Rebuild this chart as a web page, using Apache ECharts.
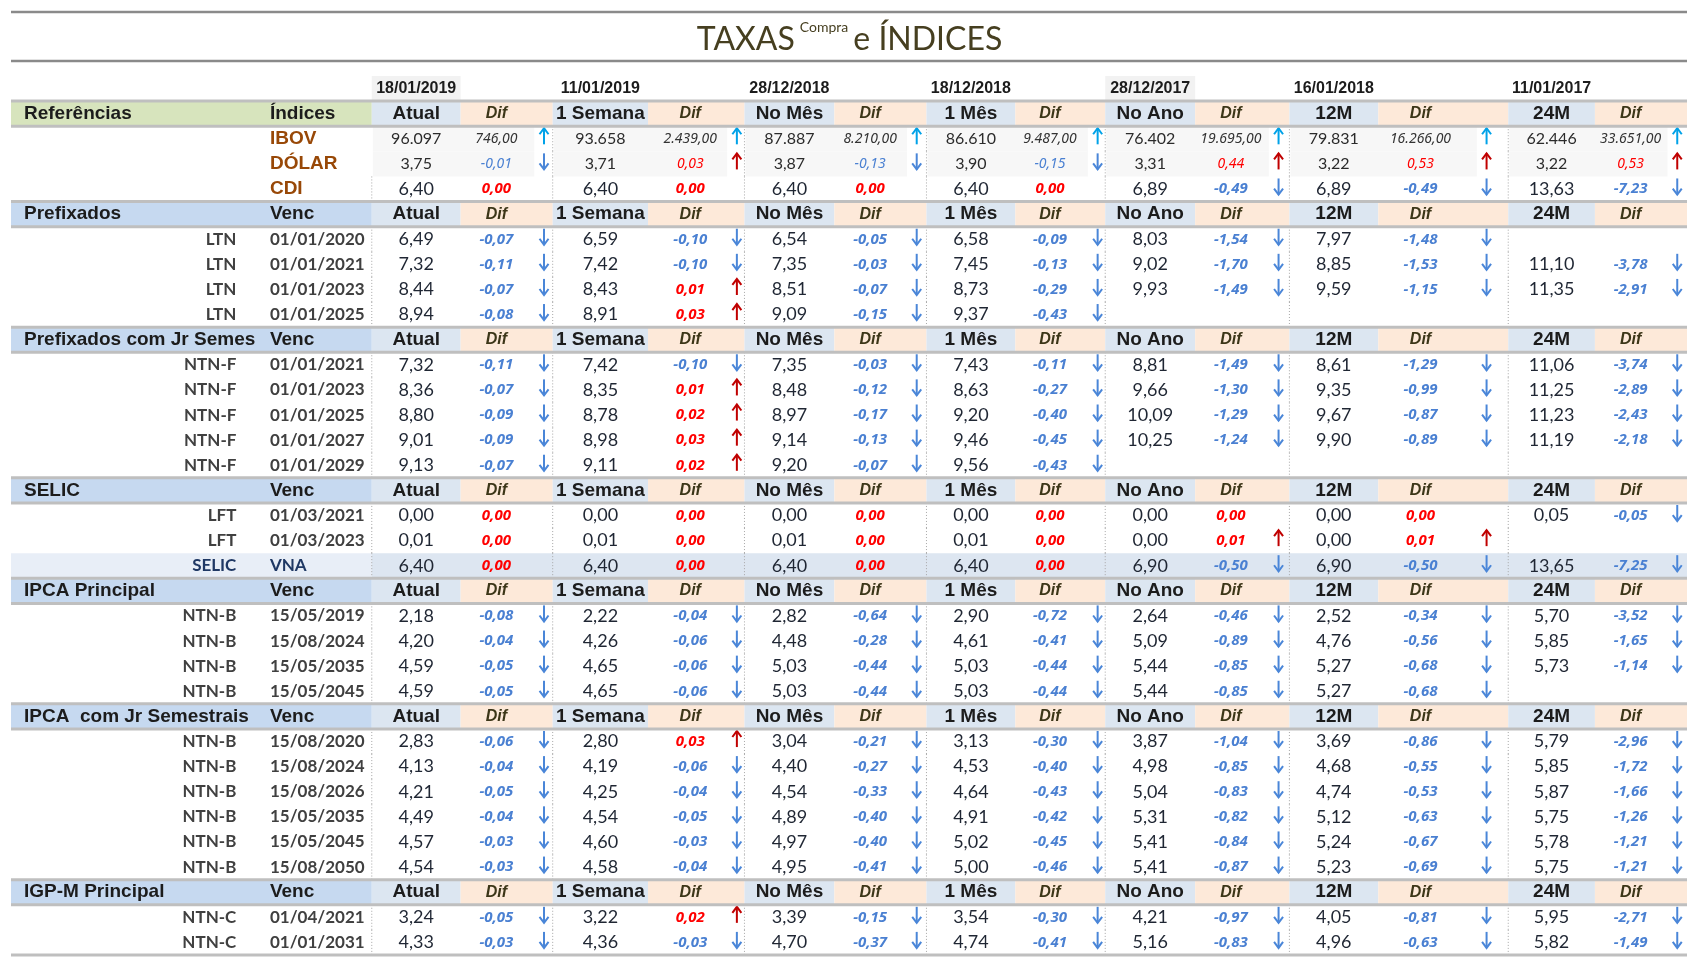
<!DOCTYPE html>
<html>
<head>
<meta charset="utf-8">
<title>TAXAS Compra e ÍNDICES</title>
<script src="https://cdn.jsdelivr.net/npm/echarts@6.0.0/dist/echarts.min.js"></script>
<style>
  html, body { margin: 0; padding: 0; background: #fff; }
  #chart { width: 1699px; height: 968px; }
</style>
</head>
<body>
<div id="chart"></div>
<script>
// datas de referência e colunas
const datas = ['18/01/2019', '11/01/2019', '28/12/2018', '18/12/2018', '28/12/2017', '16/01/2018', '11/01/2017'];
const colunas = ['Atual', '1 Semana', 'No Mês', '1 Mês', 'No Ano', '12M', '24M'];

const secoes = ['Referências', 'Prefixados', 'Prefixados com Jr Semestrais', 'SELIC', 'IPCA Principal', 'IPCA  com Jr Semestrais', 'IGP-M Principal'];
const secoesCol2 = ['Índices', 'Venc', 'Venc', 'Venc', 'Venc', 'Venc', 'Venc'];

// Referências
const indNomes = ['IBOV', 'DÓLAR', 'CDI'];
const indTaxas = [
  [96097, 93658, 87887, 86610, 76402, 79831, 62446],
  [3.75, 3.71, 3.87, 3.90, 3.31, 3.22, 3.22],
  [6.40, 6.40, 6.40, 6.40, 6.89, 6.89, 13.63]
];
const indDif = [
  [746, 2439, 8210, 9487, 19695, 16266, 33651],
  [-0.01, 0.03, -0.13, -0.15, 0.44, 0.53, 0.53],
  [0, 0, 0, 0, -0.49, -0.49, -7.23]
];

// Prefixados
const ltnTitulos = ['LTN', 'LTN', 'LTN', 'LTN'];
const ltnVenc = ['01/01/2020', '01/01/2021', '01/01/2023', '01/01/2025'];
const ltnTaxas = [
  [6.49, 6.59, 6.54, 6.58, 8.03, 7.97, null],
  [7.32, 7.42, 7.35, 7.45, 9.02, 8.85, 11.10],
  [8.44, 8.43, 8.51, 8.73, 9.93, 9.59, 11.35],
  [8.94, 8.91, 9.09, 9.37, null, null, null]
];
const ltnDif = [
  [-0.07, -0.10, -0.05, -0.09, -1.54, -1.48, null],
  [-0.11, -0.10, -0.03, -0.13, -1.70, -1.53, -3.78],
  [-0.07, 0.01, -0.07, -0.29, -1.49, -1.15, -2.91],
  [-0.08, 0.03, -0.15, -0.43, null, null, null]
];

// Prefixados com juros semestrais
const ntnfTitulos = ['NTN-F', 'NTN-F', 'NTN-F', 'NTN-F', 'NTN-F'];
const ntnfVenc = ['01/01/2021', '01/01/2023', '01/01/2025', '01/01/2027', '01/01/2029'];
const ntnfTaxas = [
  [7.32, 7.42, 7.35, 7.43, 8.81, 8.61, 11.06],
  [8.36, 8.35, 8.48, 8.63, 9.66, 9.35, 11.25],
  [8.80, 8.78, 8.97, 9.20, 10.09, 9.67, 11.23],
  [9.01, 8.98, 9.14, 9.46, 10.25, 9.90, 11.19],
  [9.13, 9.11, 9.20, 9.56, null, null, null]
];
const ntnfDif = [
  [-0.11, -0.10, -0.03, -0.11, -1.49, -1.29, -3.74],
  [-0.07, 0.01, -0.12, -0.27, -1.30, -0.99, -2.89],
  [-0.09, 0.02, -0.17, -0.40, -1.29, -0.87, -2.43],
  [-0.09, 0.03, -0.13, -0.45, -1.24, -0.89, -2.18],
  [-0.07, 0.02, -0.07, -0.43, null, null, null]
];

// SELIC
const selicTitulos = ['LFT', 'LFT', 'SELIC'];
const selicVenc = ['01/03/2021', '01/03/2023', 'VNA'];
const selicTaxas = [
  [0.00, 0.00, 0.00, 0.00, 0.00, 0.00, 0.05],
  [0.01, 0.01, 0.01, 0.01, 0.00, 0.00, null],
  [6.40, 6.40, 6.40, 6.40, 6.90, 6.90, 13.65]
];
const selicDif = [
  [0, 0, 0, 0, 0, 0, -0.05],
  [0, 0, 0, 0, 0.01, 0.01, null],
  [0, 0, 0, 0, -0.50, -0.50, -7.25]
];

// IPCA Principal
const ipcaTitulos = ['NTN-B', 'NTN-B', 'NTN-B', 'NTN-B'];
const ipcaVenc = ['15/05/2019', '15/08/2024', '15/05/2035', '15/05/2045'];
const ipcaTaxas = [
  [2.18, 2.22, 2.82, 2.90, 2.64, 2.52, 5.70],
  [4.20, 4.26, 4.48, 4.61, 5.09, 4.76, 5.85],
  [4.59, 4.65, 5.03, 5.03, 5.44, 5.27, 5.73],
  [4.59, 4.65, 5.03, 5.03, 5.44, 5.27, null]
];
const ipcaDif = [
  [-0.08, -0.04, -0.64, -0.72, -0.46, -0.34, -3.52],
  [-0.04, -0.06, -0.28, -0.41, -0.89, -0.56, -1.65],
  [-0.05, -0.06, -0.44, -0.44, -0.85, -0.68, -1.14],
  [-0.05, -0.06, -0.44, -0.44, -0.85, -0.68, null]
];

// IPCA com juros semestrais
const ipcaJrTitulos = ['NTN-B', 'NTN-B', 'NTN-B', 'NTN-B', 'NTN-B', 'NTN-B'];
const ipcaJrVenc = ['15/08/2020', '15/08/2024', '15/08/2026', '15/05/2035', '15/05/2045', '15/08/2050'];
const ipcaJrTaxas = [
  [2.83, 2.80, 3.04, 3.13, 3.87, 3.69, 5.79],
  [4.13, 4.19, 4.40, 4.53, 4.98, 4.68, 5.85],
  [4.21, 4.25, 4.54, 4.64, 5.04, 4.74, 5.87],
  [4.49, 4.54, 4.89, 4.91, 5.31, 5.12, 5.75],
  [4.57, 4.60, 4.97, 5.02, 5.41, 5.24, 5.78],
  [4.54, 4.58, 4.95, 5.00, 5.41, 5.23, 5.75]
];
const ipcaJrDif = [
  [-0.06, 0.03, -0.21, -0.30, -1.04, -0.86, -2.96],
  [-0.04, -0.06, -0.27, -0.40, -0.85, -0.55, -1.72],
  [-0.05, -0.04, -0.33, -0.43, -0.83, -0.53, -1.66],
  [-0.04, -0.05, -0.40, -0.42, -0.82, -0.63, -1.26],
  [-0.03, -0.03, -0.40, -0.45, -0.84, -0.67, -1.21],
  [-0.03, -0.04, -0.41, -0.46, -0.87, -0.69, -1.21]
];

// IGP-M Principal
const igpmTitulos = ['NTN-C', 'NTN-C'];
const igpmVenc = ['01/04/2021', '01/01/2031'];
const igpmTaxas = [
  [3.24, 3.22, 3.39, 3.54, 4.21, 4.05, 5.95],
  [4.33, 4.36, 4.70, 4.74, 5.16, 4.96, 5.82]
];
const igpmDif = [
  [-0.05, 0.02, -0.15, -0.30, -0.97, -0.81, -2.71],
  [-0.03, -0.03, -0.37, -0.41, -0.83, -0.63, -1.49]
];

// ---- layout (unidades do eixo x) ----
const X_MAX = 1547;
const X_TITULO = 12;
const X_ROTULO = 208;
const X_COL2 = 239;
const X_GRUPOS = 333;
const gInicio = [333, 500, 677, 845, 1010, 1180, 1382];
const gFimValor = [415, 588, 760, 927, 1093, 1262, 1462];
const gDif = [448, 627, 793, 959, 1126, 1301, 1495];
const gSeta = [492, 670, 836, 1003, 1170, 1362, 1538];
const gFim = [500, 677, 845, 1010, 1180, 1382, 1547];

const COR = {
  verde: '#d7e4bd', azulCab: '#c6d9f0', azulValor: '#dce6f1', pessego: '#fde9d9',
  dataFundo: '#f2f2f2', indFundo: '#f7f7f7', vnaRot: '#e8eef7', vnaGrupo: '#dde6f1',
  linha: '#bfbfbf', pontilhado: '#a6a6a6',
  setaAzul: '#4a86d8', setaVermelha: '#c00000', setaCiano: '#00a2e8',
  difAzul: '#4a80d2', difVermelho: '#ff0000'
};
const SANS = '"Liberation Sans", Arial, sans-serif';
const NUM = 'Lato, "Noto Sans", sans-serif';
const DIF = '"Noto Sans", "Open Sans", sans-serif';
const EST = {
  cab: { tam: 19, peso: 'bold', fam: SANS, cor: '#1c1c1c' },
  difCab: { tam: 16, peso: 'bold', estilo: 'italic', fam: SANS, cor: '#3c3618' },
  data: { tam: 16, peso: 'bold', fam: SANS, cor: '#1c1c1c' },
  indice: { tam: 19, peso: 'bold', fam: SANS, cor: '#984807' },
  rotulo: { tam: 17, peso: 'bold', fam: NUM, cor: '#404040' },
  rotuloVna: { tam: 17, peso: 'bold', fam: NUM, cor: '#1f3864' },
  taxa: { tam: 18, fam: NUM, cor: '#1f2633' },
  taxaPeq: { tam: 16, fam: NUM, cor: '#2b2b2b' },
  difNeg: { tam: 15, peso: 'bold', estilo: 'italic', fam: DIF, cor: COR.difAzul },
  difPos: { tam: 15, peso: 'bold', estilo: 'italic', fam: DIF, cor: COR.difVermelho },
  difPeqCinza: { tam: 14, estilo: 'italic', fam: DIF, cor: '#333333' },
  difPeqNeg: { tam: 14, estilo: 'italic', fam: DIF, cor: COR.difAzul },
  difPeqPos: { tam: 14, estilo: 'italic', fam: DIF, cor: COR.difVermelho }
};

function fmt(v, dec) {
  const neg = v < 0;
  const partes = Math.abs(v).toFixed(dec).split('.');
  const inteiro = partes[0].replace(/\B(?=(\d{3})+(?!\d))/g, '.');
  return (neg ? '-' : '') + inteiro + (partes[1] ? ',' + partes[1] : '');
}

const fundos = [];
const linhas = [];
const textos = [];
const setas = [];

// linha das datas
datas.forEach((d, g) => {
  if (g === 0 || g === 4) fundos.push({ x0: gInicio[g], x1: gFimValor[g], row: -1, cor: COR.dataFundo });
  textos.push({ x: (gInicio[g] + gFimValor[g]) / 2, row: -1, txt: d, est: 'data', align: 'center' });
});

function cabecalho(r, s) {
  fundos.push({ x0: 0, x1: X_GRUPOS, row: r, cor: s === 0 ? COR.verde : COR.azulCab });
  textos.push({ x: X_TITULO, row: r, txt: secoes[s], est: 'cab', align: 'left', larg: X_COL2 - X_TITULO - 12 });
  textos.push({ x: X_COL2, row: r, txt: secoesCol2[s], est: 'cab', align: 'left' });
  colunas.forEach((c, g) => {
    fundos.push({ x0: gInicio[g], x1: gFimValor[g], row: r, cor: COR.azulValor });
    fundos.push({ x0: gFimValor[g], x1: gFim[g], row: r, cor: COR.pessego });
    textos.push({ x: (gInicio[g] + gFimValor[g]) / 2, row: r, txt: c, est: 'cab', align: 'center' });
    textos.push({ x: gDif[g], row: r, txt: 'Dif', est: 'difCab', align: 'center' });
  });
  linhas.push({ x0: 0, y0: r - 0.5, x1: X_MAX, y1: r - 0.5, tipo: 'cinza' });
  linhas.push({ x0: 0, y0: r + 0.5, x1: X_MAX, y1: r + 0.5, tipo: 'cinza' });
}

function linhaDados(r, rot, venc, taxas, difs, tipo) {
  const pequeno = tipo === 'ibov' || tipo === 'dolar';
  if (tipo === 'vna') {
    fundos.push({ x0: 0, x1: X_GRUPOS, row: r, cor: COR.vnaRot });
    fundos.push({ x0: X_GRUPOS, x1: X_MAX, row: r, cor: COR.vnaGrupo });
  }
  if (rot) textos.push({ x: X_ROTULO, row: r, txt: rot, est: tipo === 'vna' ? 'rotuloVna' : 'rotulo', align: 'right' });
  textos.push({ x: X_COL2, row: r, txt: venc, est: (tipo === 'ibov' || tipo === 'dolar' || tipo === 'cdi') ? 'indice' : (tipo === 'vna' ? 'rotuloVna' : 'rotulo'), align: 'left' });
  for (let g = 0; g < colunas.length; g++) {
    if (pequeno) fundos.push({ x0: gInicio[g] + 1, x1: gSeta[g] - 9, row: r, cor: COR.indFundo });
    if (!(pequeno && g === 0)) linhas.push({ x0: gInicio[g], y0: r - 0.5, x1: gInicio[g], y1: r + 0.5, tipo: 'ponto' });
    const v = taxas[g];
    const d = difs[g];
    if (v !== null) {
      textos.push({ x: (gInicio[g] + gFimValor[g]) / 2, row: r, txt: fmt(v, tipo === 'ibov' ? 0 : 2), est: pequeno ? 'taxaPeq' : 'taxa', align: 'center' });
    }
    if (d !== null) {
      let est;
      if (tipo === 'ibov') est = 'difPeqCinza';
      else if (pequeno) est = d < 0 ? 'difPeqNeg' : 'difPeqPos';
      else est = d < 0 ? 'difNeg' : 'difPos';
      textos.push({ x: gDif[g], row: r, txt: fmt(d, 2), est: est, align: 'center' });
      if (d !== 0) {
        const cor = tipo === 'ibov' ? COR.setaCiano : (d < 0 ? COR.setaAzul : COR.setaVermelha);
        setas.push({ x: gSeta[g], row: r, dir: d < 0 ? 1 : -1, cor: cor });
      }
    }
  }
}

let r = 0;
cabecalho(r++, 0);
indNomes.forEach((n, i) => {
  linhaDados(r++, null, n, indTaxas[i], indDif[i], ['ibov', 'dolar', 'cdi'][i]);
});
const blocos = [
  [ltnTitulos, ltnVenc, ltnTaxas, ltnDif],
  [ntnfTitulos, ntnfVenc, ntnfTaxas, ntnfDif],
  [selicTitulos, selicVenc, selicTaxas, selicDif],
  [ipcaTitulos, ipcaVenc, ipcaTaxas, ipcaDif],
  [ipcaJrTitulos, ipcaJrVenc, ipcaJrTaxas, ipcaJrDif],
  [igpmTitulos, igpmVenc, igpmTaxas, igpmDif]
];
blocos.forEach((b, s) => {
  cabecalho(r++, s + 1);
  b[0].forEach((t, i) => {
    linhaDados(r++, t, b[1][i], b[2][i], b[3][i], b[1][i] === 'VNA' ? 'vna' : 'normal');
  });
});
linhas.push({ x0: 0, y0: r - 0.5, x1: X_MAX, y1: r - 0.5, tipo: 'cinza' });
const ULTIMA = r - 1;

const chart = echarts.init(document.getElementById('chart'), null, { renderer: 'canvas' });

const option = {
  animation: false,
  backgroundColor: '#ffffff',
  title: {
    left: 'center',
    top: 20,
    padding: 0,
    text: '{t|TAXAS} {s|Compra} {t|e ÍNDICES}',
    textStyle: {
      rich: {
        t: { fontSize: 32, fontWeight: 'normal', fontFamily: NUM, color: '#463f20', lineHeight: 40 },
        s: { fontSize: 14, fontWeight: 'normal', fontFamily: NUM, color: '#463f20', lineHeight: 28, verticalAlign: 'top' }
      }
    }
  },
  graphic: [
    { type: 'line', shape: { x1: 11, y1: 12, x2: 1687, y2: 12 }, style: { stroke: '#8a8a8a', lineWidth: 2.5 } },
    { type: 'line', shape: { x1: 11, y1: 61, x2: 1687, y2: 61 }, style: { stroke: '#8a8a8a', lineWidth: 2.5 } }
  ],
  grid: { left: 11, right: 12, top: 76, bottom: 13 },
  xAxis: { type: 'value', min: 0, max: X_MAX, show: false },
  yAxis: { type: 'value', inverse: true, min: -1.5, max: ULTIMA + 0.5, show: false },
  series: [
    {
      type: 'custom', name: 'fundos', silent: true,
      data: fundos.map(f => [f.x0, f.x1, f.row]),
      renderItem: (params, api) => {
        const f = fundos[params.dataIndex];
        const p0 = api.coord([api.value(0), api.value(2) - 0.5]);
        const p1 = api.coord([api.value(1), api.value(2) + 0.5]);
        return { type: 'rect', shape: { x: p0[0], y: p0[1], width: p1[0] - p0[0], height: p1[1] - p0[1] }, style: { fill: f.cor } };
      }
    },
    {
      type: 'custom', name: 'linhas', silent: true,
      data: linhas.map(l => [l.x0, l.y0, l.x1, l.y1]),
      renderItem: (params, api) => {
        const l = linhas[params.dataIndex];
        const p0 = api.coord([api.value(0), api.value(1)]);
        const p1 = api.coord([api.value(2), api.value(3)]);
        const cinza = l.tipo === 'cinza';
        return {
          type: 'line', z2: cinza ? 10 : 1,
          shape: { x1: p0[0], y1: p0[1], x2: p1[0], y2: p1[1] },
          style: cinza ? { stroke: COR.linha, lineWidth: 3 } : { stroke: COR.pontilhado, lineWidth: 1, lineDash: [1, 2] }
        };
      }
    },
    {
      type: 'custom', name: 'textos', silent: true,
      data: textos.map(t => [t.x, t.row]),
      renderItem: (params, api) => {
        const t = textos[params.dataIndex];
        const e = EST[t.est];
        const p = api.coord([api.value(0), api.value(1)]);
        const style = {
          text: t.txt, x: p[0], y: p[1], align: t.align, verticalAlign: 'middle',
          fill: e.cor, fontSize: e.tam, fontWeight: e.peso || 'normal',
          fontStyle: e.estilo || 'normal', fontFamily: e.fam
        };
        if (t.larg) {
          style.width = api.size([t.larg, 0])[0];
          style.overflow = 'truncate';
          style.ellipsis = '';
        }
        return { type: 'text', style: style };
      }
    },
    {
      type: 'custom', name: 'setas', silent: true,
      data: setas.map(s => [s.x, s.row]),
      renderItem: (params, api) => {
        const s = setas[params.dataIndex];
        const p = api.coord([api.value(0), api.value(1) - 0.1]);
        const h = api.size([0, 1])[1] * 0.32;
        const d = s.dir;
        const ponta = p[1] + d * h;
        return {
          type: 'group',
          children: [
            { type: 'line', shape: { x1: p[0], y1: p[1] - d * h, x2: p[0], y2: ponta }, style: { stroke: s.cor, lineWidth: 2 } },
            { type: 'polyline', shape: { points: [[p[0] - 4.5, ponta - d * 6], [p[0], ponta], [p[0] + 4.5, ponta - d * 6]] }, style: { stroke: s.cor, lineWidth: 2, fill: null } }
          ]
        };
      }
    }
  ]
};
chart.setOption(option);
</script>
</body>
</html>
